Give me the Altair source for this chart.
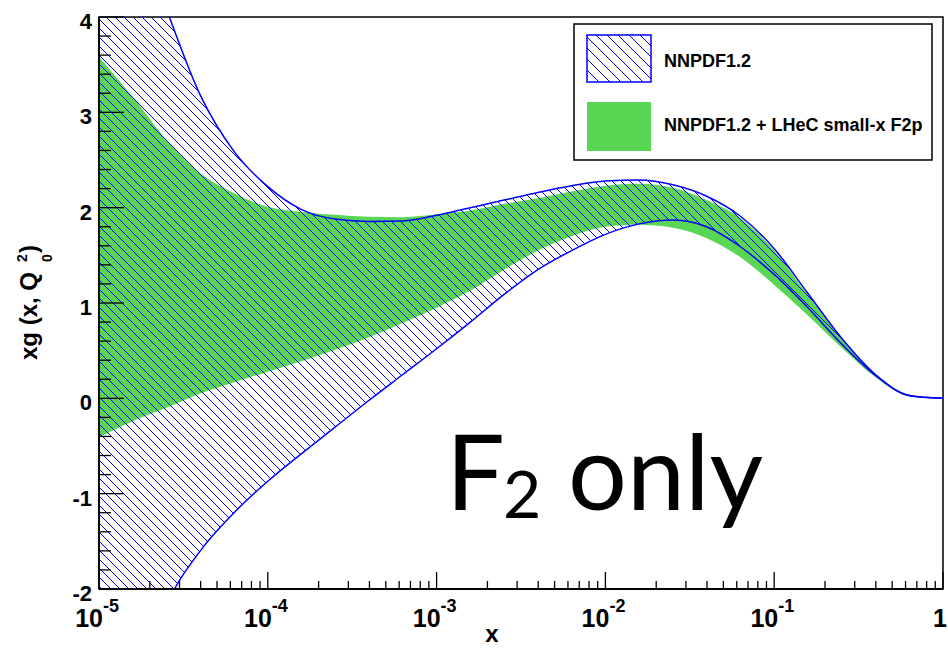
import numpy as np
import pandas as pd
import altair as alt

# ---------------- data ----------------
LOGX = [-5.0, -4.8, -4.6, -4.4, -4.2, -4.0, -3.8, -3.6, -3.4, -3.2, -3.0, -2.8, -2.6,
        -2.4, -2.2, -2.0, -1.8, -1.6, -1.4, -1.2, -1.0, -0.8, -0.6, -0.4, -0.2, 0.0]
BLUE_UP = [6.3, 5.05, 4.08, 3.18, 2.59, 2.22, 1.98, 1.88, 1.855, 1.86, 1.92, 2.00, 2.08,
           2.16, 2.23, 2.28, 2.29, 2.24, 2.12, 1.91, 1.57, 1.10, 0.63, 0.25, 0.03, 0.0]
BLUE_LO = [-4.2, -3.2, -2.17, -1.60, -1.20, -0.87, -0.58, -0.30, -0.02, 0.25, 0.52, 0.80, 1.09,
           1.35, 1.55, 1.72, 1.83, 1.87, 1.80, 1.59, 1.30, 0.95, 0.57, 0.24, 0.03, 0.0]
GREEN_UP = [3.58, 3.16, 2.71, 2.36, 2.15, 2.01, 1.955, 1.925, 1.905, 1.90, 1.93, 1.97, 2.04,
            2.10, 2.17, 2.23, 2.25, 2.21, 2.08, 1.89, 1.55, 1.08, 0.62, 0.25, 0.03, 0.0]
GREEN_LO = [-0.41, -0.24, -0.10, 0.05, 0.17, 0.28, 0.39, 0.51, 0.64, 0.79, 0.95, 1.13, 1.35,
            1.55, 1.70, 1.80, 1.82, 1.79, 1.68, 1.48, 1.19, 0.87, 0.53, 0.22, 0.02, 0.0]

X_TICK_EXP = [-5, -4, -3, -2, -1, 0]
X_TICK_BASE = ["10", "10", "10", "10", "10", "1"]
X_TICK_SUP = ["-5", "-4", "-3", "-2", "-1", ""]
Y_TICKS = [-2, -1, 0, 1, 2, 3, 4]
Y_LABELS = ["-2", "-1", "0", "1", "2", "3", "4"]
LEGEND_LABELS = ["NNPDF1.2", "NNPDF1.2 + LHeC small-x F2p"]

# ---------------- layout / style ----------------
W, H = 844, 572
X_DOM = [1e-5, 1.0]
Y_DOM = [-2.0, 4.0]
BLUE = "#0000ff"
GREEN = "#59d654"
FONT = "Liberation Sans"
HATCH_SP = 9.0

xs = alt.Scale(type="log", domain=X_DOM, nice=False)
ys = alt.Scale(domain=Y_DOM, nice=False, zero=False)

band = pd.DataFrame({
    "x": [10.0 ** v for v in LOGX],
    "bu": BLUE_UP, "bl": BLUE_LO, "gu": GREEN_UP, "gl": GREEN_LO,
})


# monotone cubic (same as d3 curveMonotoneX) to clip hatch lines to the drawn band
def monotone(xv, yv, xq):
    xv = np.asarray(xv, float)
    yv = np.asarray(yv, float)
    n = len(xv)
    h = np.diff(xv)
    s = np.diff(yv) / h
    t = np.zeros(n)
    sg = lambda v: -1.0 if v < 0 else 1.0
    for i in range(1, n - 1):
        s0, s1, h0, h1 = s[i - 1], s[i], h[i - 1], h[i]
        p = (s0 * h1 + s1 * h0) / (h0 + h1)
        t[i] = (sg(s0) + sg(s1)) * min(abs(s0), abs(s1), 0.5 * abs(p))
    t[0] = (3 * s[0] - t[1]) / 2
    t[-1] = (3 * s[-1] - t[-2]) / 2
    idx = np.clip(np.searchsorted(xv, xq, side="right") - 1, 0, n - 2)
    hh = h[idx]
    u = (xq - xv[idx]) / hh
    h00 = 2 * u ** 3 - 3 * u ** 2 + 1
    h10 = u ** 3 - 2 * u ** 2 + u
    h01 = -2 * u ** 3 + 3 * u ** 2
    h11 = u ** 3 - u ** 2
    return h00 * yv[idx] + h10 * hh * t[idx] + h01 * yv[idx + 1] + h11 * hh * t[idx + 1]


Lq = np.linspace(-5, 0, 6001)
bu = monotone(LOGX, BLUE_UP, Lq)
bl = monotone(LOGX, BLUE_LO, Lq)
lo = np.clip(np.minimum(bu, bl), Y_DOM[0], Y_DOM[1])
hi = np.clip(np.maximum(bu, bl), Y_DOM[0], Y_DOM[1])
px = W * (Lq + 5) / 5.0

rows = []
for c in np.arange(-W, H + HATCH_SP, HATCH_SP):
    yl = 4 - 6 * (px + c) / H
    f = np.minimum(yl - lo, hi - yl)
    inside = (f >= 0).astype(int)
    e = np.diff(np.concatenate([[0], inside, [0]]))
    starts = np.flatnonzero(e == 1)
    ends = np.flatnonzero(e == -1) - 1
    for s_, e_ in zip(starts, ends):
        if s_ > 0:
            fr = f[s_ - 1] / (f[s_ - 1] - f[s_])
            Ls = Lq[s_ - 1] + fr * (Lq[s_] - Lq[s_ - 1])
        else:
            Ls = Lq[s_]
        if e_ < len(Lq) - 1:
            fr = f[e_] / (f[e_] - f[e_ + 1])
            Le = Lq[e_] + fr * (Lq[e_ + 1] - Lq[e_])
        else:
            Le = Lq[e_]
        if Le - Ls < 1e-4:
            continue
        y1 = 4 - 6 * (W * (Ls + 5) / 5 + c) / H
        y2 = 4 - 6 * (W * (Le + 5) / 5 + c) / H
        rows.append({"x": 10 ** Ls, "x2": 10 ** Le, "y": y1, "y2": y2})
hatch = pd.DataFrame(rows)

layers = []
layers.append(alt.Chart(band).mark_area(color=GREEN, clip=True, interpolate="monotone").encode(
    x=alt.X("x:Q", scale=xs, axis=None),
    y=alt.Y("gl:Q", scale=ys, axis=None), y2="gu:Q"))
layers.append(alt.Chart(hatch).mark_rule(color=BLUE, strokeWidth=1, clip=True).encode(
    x=alt.X("x:Q", scale=xs, axis=None), x2="x2:Q",
    y=alt.Y("y:Q", scale=ys, axis=None), y2="y2:Q"))
for col in ["bu", "bl"]:
    layers.append(alt.Chart(band).mark_line(color=BLUE, strokeWidth=1.5, clip=True,
                                            interpolate="monotone").encode(
        x=alt.X("x:Q", scale=xs, axis=None), y=alt.Y(f"{col}:Q", scale=ys, axis=None)))

one = pd.DataFrame({"a": [0]})
# frame left & bottom (thicker)
layers.append(alt.Chart(one).mark_rule(color="black", strokeWidth=2).encode(
    x=alt.value(0), y=alt.value(0), y2=alt.value(H)))
layers.append(alt.Chart(one).mark_rule(color="black", strokeWidth=2).encode(
    x=alt.value(0), x2=alt.value(W), y=alt.value(H)))

# ticks
xmaj = pd.DataFrame({"x": [10.0 ** e for e in X_TICK_EXP]})
xmin = pd.DataFrame({"x": [k * 10.0 ** e for e in X_TICK_EXP[:-1] for k in range(2, 10)]})
ymaj = pd.DataFrame({"y": Y_TICKS})
ymin = pd.DataFrame({"y": [round(v, 1) for v in np.arange(-2, 4.001, 0.2)
                           if abs(v - round(v)) > 1e-6]})
layers.append(alt.Chart(xmaj).mark_rule(color="black", strokeWidth=1.3).encode(
    x=alt.X("x:Q", scale=xs, axis=None), y=alt.value(H), y2=alt.value(H - 17)))
layers.append(alt.Chart(xmin).mark_rule(color="black", strokeWidth=1.3).encode(
    x=alt.X("x:Q", scale=xs, axis=None), y=alt.value(H), y2=alt.value(H - 8)))
layers.append(alt.Chart(ymaj).mark_rule(color="black", strokeWidth=1.3).encode(
    y=alt.Y("y:Q", scale=ys, axis=None), x=alt.value(0), x2=alt.value(25)))
layers.append(alt.Chart(ymin).mark_rule(color="black", strokeWidth=1.3).encode(
    y=alt.Y("y:Q", scale=ys, axis=None), x=alt.value(0), x2=alt.value(12)))

# tick labels
ylab = pd.DataFrame({"y": Y_TICKS, "t": Y_LABELS})
layers.append(alt.Chart(ylab).mark_text(align="right", baseline="middle", dx=-7, dy=5,
                                        font=FONT, fontWeight="bold", fontSize=22).encode(
    y=alt.Y("y:Q", scale=ys, axis=None), x=alt.value(0), text="t:N"))
xlab = pd.DataFrame({"x": [10.0 ** e for e in X_TICK_EXP], "b": X_TICK_BASE, "s": X_TICK_SUP})
layers.append(alt.Chart(xlab).mark_text(align="right", baseline="alphabetic", dx=4,
                                        font=FONT, fontWeight="bold", fontSize=25).encode(
    x=alt.X("x:Q", scale=xs, axis=None), y=alt.value(H + 38), text="b:N"))
layers.append(alt.Chart(xlab).mark_text(align="left", baseline="alphabetic", dx=4,
                                        font=FONT, fontWeight="bold", fontSize=18).encode(
    x=alt.X("x:Q", scale=xs, axis=None), y=alt.value(H + 23), text="s:N"))

# axis titles
layers.append(alt.Chart(one).mark_text(align="center", baseline="alphabetic", font=FONT,
                                       fontWeight="bold", fontSize=24).encode(
    x=alt.value(393), y=alt.value(H + 53), text=alt.value("x")))
layers.append(alt.Chart(one).mark_text(align="left", baseline="alphabetic", angle=270, font=FONT,
                                       fontWeight="bold", fontSize=24).encode(
    x=alt.value(-62), y=alt.value(343), text=alt.value("xg (x, Q")))
layers.append(alt.Chart(one).mark_text(align="center", baseline="middle", angle=270, font=FONT,
                                       fontWeight="bold", fontSize=14).encode(
    x=alt.value(-51), y=alt.value(241), text=alt.value("0")))
layers.append(alt.Chart(one).mark_text(align="center", baseline="middle", angle=270, font=FONT,
                                       fontWeight="bold", fontSize=14).encode(
    x=alt.value(-76), y=alt.value(241), text=alt.value("2")))
layers.append(alt.Chart(one).mark_text(align="left", baseline="alphabetic", angle=270, font=FONT,
                                       fontWeight="bold", fontSize=24).encode(
    x=alt.value(-62), y=alt.value(236), text=alt.value(")")))

# legend
LX0, LX1, LY0, LY1 = 475, 833, 7, 143
layers.append(alt.Chart(one).mark_rect(fill="white", stroke="black", strokeWidth=1.5).encode(
    x=alt.value(LX0), x2=alt.value(LX1), y=alt.value(LY0), y2=alt.value(LY1)))
BX0, BX1, BY0, BY1 = 488, 552, 18, 65
layers.append(alt.Chart(one).mark_rect(fill="white", stroke=BLUE, strokeWidth=1.5).encode(
    x=alt.value(BX0), x2=alt.value(BX1), y=alt.value(BY0), y2=alt.value(BY1)))
lrows = []
for c in np.arange(BY0 - BX1, BY1 - BX0, 11.0):
    a = max(BX0, BY0 - c)
    b = min(BX1, BY1 - c)
    if b - a > 0.5:
        lrows.append({"lx": a, "lx2": b, "ly": a + c, "ly2": b + c})
leg_hatch = pd.DataFrame(lrows)
layers.append(alt.Chart(leg_hatch).mark_rule(color=BLUE, strokeWidth=1).encode(
    x=alt.X("lx:Q", scale=None), x2="lx2:Q", y=alt.Y("ly:Q", scale=None), y2="ly2:Q"))
layers.append(alt.Chart(one).mark_rect(fill=GREEN).encode(
    x=alt.value(BX0), x2=alt.value(BX1), y=alt.value(85), y2=alt.value(134)))
for lab, yy in zip(LEGEND_LABELS, [45, 109]):
    layers.append(alt.Chart(one).mark_text(align="left", baseline="middle", font=FONT,
                                           fontWeight="bold", fontSize=18).encode(
        x=alt.value(565), y=alt.value(yy), text=alt.value(lab)))

# "F2 only" annotation
layers.append(alt.Chart(one).mark_text(align="left", baseline="alphabetic", font="Lato",
                                       fontSize=104).encode(
    x=alt.value(347), y=alt.value(493), text=alt.value("F")))
layers.append(alt.Chart(one).mark_text(align="left", baseline="alphabetic", font="Lato",
                                       fontSize=66).encode(
    x=alt.value(404), y=alt.value(501), text=alt.value("2")))
layers.append(alt.Chart(one).mark_text(align="left", baseline="alphabetic", font="Lato",
                                       fontSize=104).encode(
    x=alt.value(469), y=alt.value(493), text=alt.value("only")))

chart = alt.layer(*layers).properties(
    width=W, height=H,
    padding={"left": 99, "top": 17, "right": 5, "bottom": 59},
    autosize=alt.AutoSizeParams(type="none"),
    background="white",
).configure_view(stroke="black", strokeWidth=1.5)

chart.save("out.html", embed_options={"renderer": "svg", "actions": False})
